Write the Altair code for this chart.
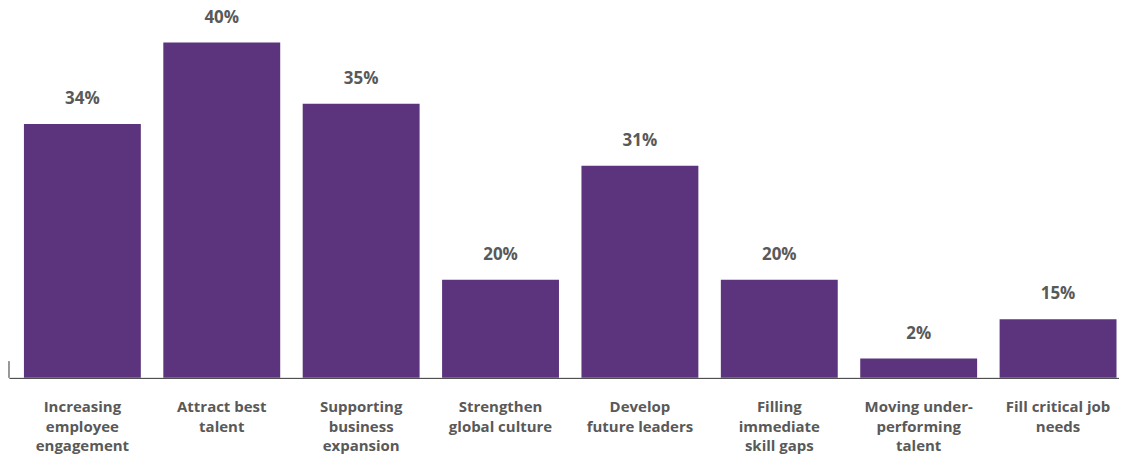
import altair as alt
import pandas as pd

categories = [
    "Increasing|employee|engagement",
    "Attract best|talent",
    "Supporting|business|expansion",
    "Strengthen|global culture",
    "Develop|future leaders",
    "Filling|immediate|skill gaps",
    "Moving under-|performing|talent",
    "Fill critical job|needs",
]
# percentages printed above the bars
percent_labels = [34, 40, 35, 20, 31, 20, 2, 15]
# drawn bar lengths (not proportional to labels)
bar_lengths = [30.3, 40.0, 32.7, 11.7, 25.3, 11.7, 2.3, 7.0]
# short vertical axis stub at the left of the baseline
stub_range = [0.0, 2.0]

df = pd.DataFrame({
    "cat": categories,
    "pct": percent_labels,
    "len": bar_lengths,
})
df["label"] = df["pct"].astype(str) + "%"

FONT = "Open Sans"
GRAY = "#595959"

x_enc = alt.X(
    "cat:N",
    sort=categories,
    scale=alt.Scale(paddingInner=0.1613, paddingOuter=0.0625, align=0.857),
    axis=alt.Axis(
        title=None,
        labelAngle=0,
        labelExpr="split(datum.label, '|')",
        labelFont=FONT,
        labelFontSize=15,
        labelFontWeight="bold",
        labelColor=GRAY,
        labelLineHeight=19.5,
        labelPadding=22,
        labelBaseline="top",
        ticks=False,
        grid=False,
        domainColor="#333333",
        domainWidth=1,
        labelLimit=200,
    ),
)
y_scale = alt.Scale(domain=[0, 44.1], nice=False, zero=True)
y_enc = alt.Y("len:Q", scale=y_scale, axis=None)

base = alt.Chart(df).encode(x=x_enc, y=y_enc)

bars = base.mark_bar(color="#5C347D")

texts = base.mark_text(
    baseline="middle", dy=-25, font=FONT, fontSize=17, fontWeight="bold", color=GRAY
).encode(text="label:N")

stub_df = pd.DataFrame({"y0": [stub_range[0]], "y1": [stub_range[1]]})
stub = alt.Chart(stub_df).mark_rule(color="#333333", strokeWidth=1).encode(
    x=alt.value(0),
    y=alt.Y("y0:Q", scale=y_scale, axis=None),
    y2="y1:Q",
)

chart = (
    alt.layer(bars, texts, stub)
    .properties(
        width=1111,
        height=370,
        padding=0,
        background="white",
        view=alt.ViewBackground(strokeWidth=0, strokeOpacity=0),
    )
    .configure_view(strokeWidth=0, strokeOpacity=0)
    .configure_axis(grid=False)
    .configure(font=FONT, style={"cell": {"strokeWidth": 0, "strokeOpacity": 0}})
)

chart.save("out.html", embed_options={"renderer": "svg", "actions": False})
